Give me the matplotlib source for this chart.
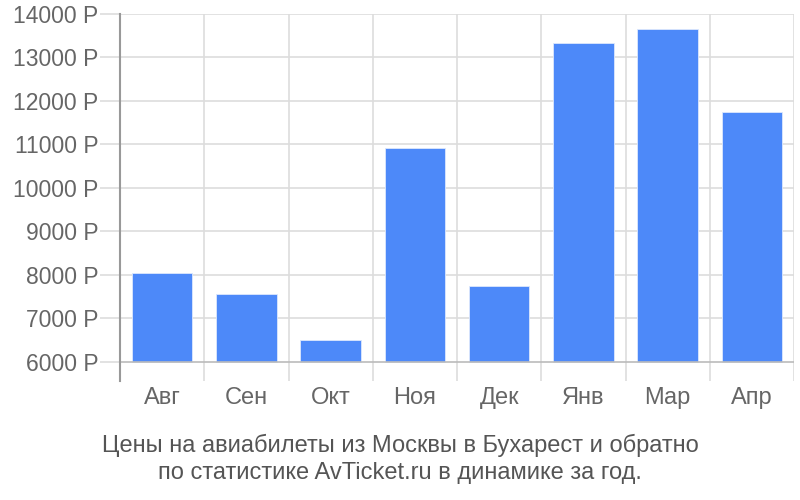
import matplotlib
matplotlib.use("Agg")
import matplotlib.pyplot as plt

months = ['Авг', 'Сен', 'Окт', 'Ноя', 'Дек', 'Янв', 'Мар', 'Апр']
prices = [8055, 7563, 6506, 10929, 7747, 13333, 13648, 11756]
yticks = [6000, 7000, 8000, 9000, 10000, 11000, 12000, 13000, 14000]
caption = 'Цены на авиабилеты из Москвы в Бухарест и обратно\nпо статистике AvTicket.ru в динамике за год.'

plt.rcParams['font.family'] = ['Liberation Sans', 'DejaVu Sans']

base = 6000
fig = plt.figure(figsize=(8, 5), dpi=100)
ax = fig.add_axes([0.15, 0.238, 0.8425, 0.734])

x = list(range(len(months)))
ax.bar(x, [p - base for p in prices], bottom=base, width=0.72,
       color='#4d89f9', edgecolor='#dce8fd', linewidth=0.6, zorder=3)

ax.set_xlim(-0.5, len(months) - 0.5)
ax.set_ylim(5560, 14000)

# horizontal grid + baseline
ax.set_yticks(yticks)
ax.set_yticklabels(['%d Р' % v for v in yticks])
for v in yticks:
	if v == base:
		ax.axhline(v, color='#bbbbbb', lw=1.2, zorder=4)
	else:
		ax.axhline(v, color='#dddddd', lw=1.2, zorder=1)
ax.tick_params(axis='y', length=14.4, color='#dddddd', width=1.2, pad=1,
               labelsize=16.5, labelcolor='#666666')

# vertical grid on category boundaries
for b in range(len(months) + 1):
	ax.axvline(b - 0.5, color='#dddddd', lw=1.2, zorder=1)
ax.set_xticks(x)
ax.set_xticklabels(months)
ax.tick_params(axis='x', length=0, pad=4, labelsize=17, labelcolor='#666666')

for s in ['top', 'right', 'bottom']:
	ax.spines[s].set_visible(False)
ax.spines['left'].set_color('#999999')
ax.spines['left'].set_linewidth(1.5)
ax.spines['left'].set_zorder(5)

fig.text(0.5, 0.083, caption, ha='center', va='center', fontsize=17,
         color='#555555', linespacing=1.3)

fig.savefig('out.png', dpi=100)
